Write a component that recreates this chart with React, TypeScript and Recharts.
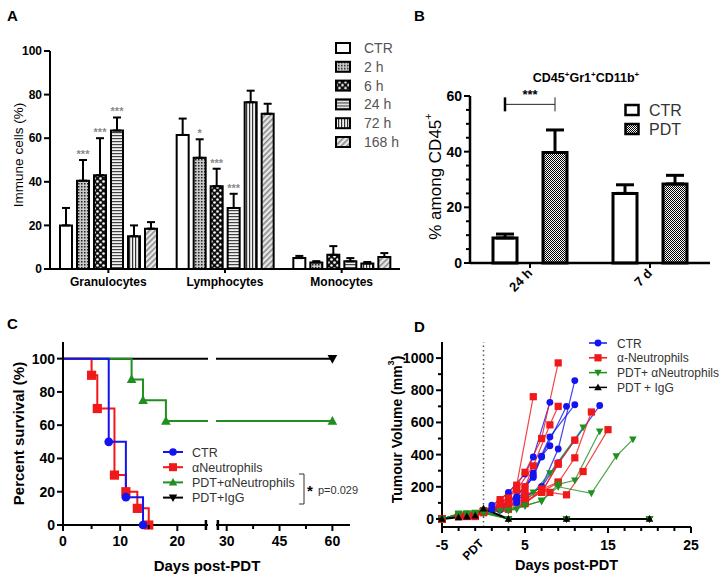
import React from "react";
import {
  Bar,
  BarChart,
  ErrorBar,
  Label,
  LabelList,
  Legend,
  Line,
  LineChart,
  ReferenceLine,
  XAxis,
  YAxis,
} from "recharts";

const FONT = '"Liberation Sans", Arial, Helvetica, sans-serif';
const AXIS = { stroke: "#000", strokeWidth: 2 };

// ---------- panel A: immune cells over time
const A_GROUPS = ["Granulocytes", "Lymphocytes", "Monocytes"];
const A_TIMES = ["CTR", "2 h", "6 h", "24 h", "72 h", "168 h"];
const A_CTR = [20, 61.5, 5];
const A_CTR_SD = [8, 7.5, 1];
const A_2H = [40.5, 51, 3];
const A_2H_SD = [9.5, 8.5, 0.6];
const A_6H = [43, 38, 6.5];
const A_6H_SD = [17, 8, 4];
const A_24H = [63.5, 28, 3.5];
const A_24H_SD = [6, 6.5, 1.5];
const A_72H = [15, 76.5, 2.5];
const A_72H_SD = [5, 5.3, 0.7];
const A_168H = [18.5, 71.2, 5.5];
const A_168H_SD = [3, 4.6, 1.8];
const A_STARS_2H = ["***", "*", ""];
const A_STARS_6H = ["***", "***", ""];
const A_STARS_24H = ["***", "***", ""];

// ---------- panel B: CD45+Gr1+CD11b+
const B_TIMES = ["24 h", "7 d"];
const B_CTR = [9, 25];
const B_CTR_SD = [1.4, 3.1];
const B_PDT = [39.7, 28.4];
const B_PDT_SD = [8.1, 3.1];
const B_SIG = ["***", ""];
const B_SIG_LEVEL = 57;

// ---------- panel C: survival
const C_CTR_DAYS = [0, 8, 11, 14];
const C_CTR_SURV = [100, 50, 16.7, 0];
const C_NEU_DAYS = [0, 5, 6, 9, 11, 13, 15];
const C_NEU_SURV = [100, 90, 70, 30, 20, 10, 0];
const C_PDTNEU_DAYS = [0, 12, 14, 18, 60];
const C_PDTNEU_SURV = [100, 87.5, 75, 62.5, 62.5];
const C_IGG_DAYS = [0, 60];
const C_IGG_SURV = [100, 100];

// ---------- panel D: tumour volume per mouse
const D_CTR_DAYS = [
  [-5, -3, -2, -1, 0, 1, 2, 3, 5, 6, 8],
  [-5, -3, -2, -1, 0, 1, 3, 5, 6, 8, 11],
  [-5, -3, -2, -1, 0, 2, 4, 6, 7, 8],
  [-5, -3, -2, -1, 0, 2, 4, 5, 7, 9, 11],
  [-5, -3, -2, -1, 0, 2, 4, 6, 7, 10],
  [-5, -3, -2, -1, 0, 2, 4, 5, 7, 9, 11, 14],
];
const D_CTR_VOL = [
  [0, 20, 20, 15, 45, 85, 120, 165, 280, 385, 725],
  [0, 25, 30, 20, 50, 60, 100, 200, 285, 510, 710],
  [0, 15, 20, 15, 40, 80, 140, 258, 390, 455],
  [0, 20, 25, 30, 55, 70, 130, 138, 200, 435, 860],
  [0, 20, 20, 25, 50, 65, 110, 270, 385, 700],
  [0, 20, 25, 20, 45, 55, 100, 135, 200, 350, 490, 705],
];
const D_NEU_DAYS = [
  [-5, -3, -2, -1, 0, 2, 4, 6],
  [-5, -3, -2, -1, 0, 2, 4, 6],
  [-5, -3, -2, -1, 0, 3, 5, 7, 9],
  [-5, -3, -2, -1, 0, 3, 5, 8, 9],
  [-5, -3, -2, -1, 0, 3, 5, 7, 9],
  [-5, -3, -2, -1, 0, 3, 5, 7, 9],
  [-5, -3, -2, -1, 0, 2, 5],
  [-5, -3, -2, -1, 0, 3, 5, 7, 9, 11],
  [-5, -3, -2, -1, 0, 3, 5, 7, 9, 11, 13],
  [-5, -3, -2, -1, 0, 3, 5, 7, 8, 10, 12, 15],
];
const D_NEU_VOL = [
  [0, 15, 15, 20, 45, 120, 210, 760],
  [0, 20, 20, 15, 50, 90, 180, 330],
  [0, 20, 25, 20, 50, 130, 290, 500, 970],
  [0, 15, 20, 25, 45, 110, 200, 585, 700],
  [0, 20, 25, 20, 40, 100, 160, 165, 345],
  [0, 25, 20, 25, 45, 90, 120, 185, 230],
  [0, 20, 25, 20, 50, 70, 140],
  [0, 15, 20, 20, 40, 80, 110, 165, 340, 490],
  [0, 20, 20, 25, 45, 75, 100, 170, 225, 380, 665],
  [0, 20, 25, 20, 40, 60, 95, 185, 165, 150, 295, 555],
];
const D_PDTNEU_DAYS = [
  [-5, -3, -2, -1, 0, 3, 10, 20],
  [-5, -3, -2, -1, 0, 3, 10, 20],
  [-5, -3, -2, -1, 0, 3, 10, 20],
  [-5, -3, -2, -1, 0, 3, 10, 20],
  [-5, -3, -2, -1, 0, 3, 10, 20],
  [-5, -3, -2, -1, 0, 2, 4, 6, 8, 12],
  [-5, -3, -2, -1, 0, 3, 5, 7, 9, 11, 14],
  [-5, -3, -2, -1, 0, 3, 5, 7, 9, 13, 16, 18],
];
const D_PDTNEU_VOL = [
  [0, 30, 30, 35, 40, 0, 0, 0],
  [0, 25, 35, 30, 45, 0, 0, 0],
  [0, 30, 30, 40, 35, 0, 0, 0],
  [0, 35, 30, 35, 50, 0, 0, 0],
  [0, 30, 25, 35, 40, 0, 0, 0],
  [0, 30, 30, 35, 45, 50, 60, 165, 285, 570],
  [0, 30, 35, 35, 40, 55, 85, 110, 215, 240, 545],
  [0, 25, 30, 35, 45, 50, 80, 115, 200, 160, 390, 495],
];
const D_IGG_DAYS = [[-5, -3, -2, -1, 0, 3, 10, 20]];
const D_IGG_VOL = [[0, 10, 15, 20, 65, 0, 0, 0]];

// ---------- styles
const A_FILLS = ["#fff", "url(#pDots)", "url(#pChecker)", "url(#pHStripe)", "url(#pVStripe)", "url(#pDiag)"];
const A_MEANS = [A_CTR, A_2H, A_6H, A_24H, A_72H, A_168H];
const A_SDS = [A_CTR_SD, A_2H_SD, A_6H_SD, A_24H_SD, A_72H_SD, A_168H_SD];
const A_STARS = [null, A_STARS_2H, A_STARS_6H, A_STARS_24H, null, null];
const B_BAR = 24;
const B_GAP = 26;
const BLUE = "#1414f0";
const RED = "#f01818";
const GREEN = "#1f8f1f";

const aData = A_GROUPS.map((g, gi) => {
  const row: any = { group: g };
  A_TIMES.forEach((_, ti) => {
    row[`m${ti}`] = A_MEANS[ti][gi];
    row[`e${ti}`] = [0, A_SDS[ti][gi]];
  });
  return row;
});

const bData = B_TIMES.map((t, i) => ({
  time: t,
  ctr: B_CTR[i],
  ctrErr: [0, B_CTR_SD[i]],
  pdt: B_PDT[i],
  pdtErr: [0, B_PDT_SD[i]],
}));

const toSurv = (days: number[], surv: number[]) => days.map((d, i) => ({ day: d, surv: surv[i] }));
const toVol = (days: number[], vol: number[]) => days.map((d, i) => ({ day: d, vol: vol[i] }));

// draw order: black under green under red under blue
const C_LINES = [
  { name: "PDT+IgG", data: toSurv(C_IGG_DAYS, C_IGG_SURV), color: "#000", shape: "triDown" },
  { name: "PDT+αNeutrophils", data: toSurv(C_PDTNEU_DAYS, C_PDTNEU_SURV), color: GREEN, shape: "triUp" },
  { name: "αNeutrophils", data: toSurv(C_NEU_DAYS, C_NEU_SURV), color: RED, shape: "square" },
  { name: "CTR", data: toSurv(C_CTR_DAYS, C_CTR_SURV), color: BLUE, shape: "circle" },
];
const C_LEGEND = [C_LINES[3], C_LINES[2], C_LINES[1], C_LINES[0]];

const D_GROUPS = [
  { name: "CTR", days: D_CTR_DAYS, vols: D_CTR_VOL, color: BLUE, shape: "circle" },
  { name: "α-Neutrophils", days: D_NEU_DAYS, vols: D_NEU_VOL, color: RED, shape: "square" },
  { name: "PDT+ αNeutrophils", days: D_PDTNEU_DAYS, vols: D_PDTNEU_VOL, color: GREEN, shape: "triDown" },
  { name: "PDT + IgG", days: D_IGG_DAYS, vols: D_IGG_VOL, color: "#000", shape: "triUp" },
];
const D_MICE = D_GROUPS.flatMap((g) =>
  g.days.map((d, i) => ({ data: toVol(d, g.vols[i]), color: g.color, shape: g.shape }))
);

function marker(shape: string, cx: number, cy: number, s: number, color: string, key?: any) {
  if (shape === "circle") return <circle key={key} cx={cx} cy={cy} r={s * 0.95} fill={color} />;
  if (shape === "square") return <rect key={key} x={cx - s} y={cy - s} width={2 * s} height={2 * s} fill={color} />;
  if (shape === "triUp")
    return <path key={key} d={`M${cx},${cy - s * 1.1}L${cx + s * 1.05},${cy + s * 0.8}L${cx - s * 1.05},${cy + s * 0.8}Z`} fill={color} />;
  return <path key={key} d={`M${cx},${cy + s * 1.1}L${cx + s * 1.05},${cy - s * 0.8}L${cx - s * 1.05},${cy - s * 0.8}Z`} fill={color} />;
}

function Patterns() {
  return (
    <svg width={0} height={0} style={{ position: "absolute" }}>
      <defs>
        <pattern id="pDots" width={3} height={3} patternUnits="userSpaceOnUse">
          <rect width={3} height={3} fill="#c8c8c8" />
          <rect width={1.5} height={1.5} fill="#222" />
        </pattern>
        <pattern id="pChecker" width={6} height={6} patternUnits="userSpaceOnUse">
          <rect width={6} height={6} fill="#111" />
          <circle cx={1.5} cy={1.5} r={1.3} fill="#fff" />
          <circle cx={4.5} cy={4.5} r={1.3} fill="#fff" />
        </pattern>
        <pattern id="pHStripe" width={4} height={3} patternUnits="userSpaceOnUse">
          <rect width={4} height={3} fill="#f2f2f2" />
          <rect width={4} height={1.2} fill="#444" />
        </pattern>
        <pattern id="pVStripe" width={3} height={4} patternUnits="userSpaceOnUse">
          <rect width={3} height={4} fill="#f2f2f2" />
          <rect width={1.2} height={4} fill="#333" />
        </pattern>
        <pattern id="pDiag" width={4} height={4} patternUnits="userSpaceOnUse" patternTransform="rotate(45)">
          <rect width={4} height={4} fill="#e8e8e8" />
          <rect width={1.6} height={4} fill="#8a8a8a" />
        </pattern>
        <pattern id="pPdt" width={2} height={2} patternUnits="userSpaceOnUse">
          <rect width={2} height={2} fill="#fff" />
          <rect width={1} height={1} fill="#000" />
          <rect x={1} y={1} width={1} height={1} fill="#000" />
        </pattern>
      </defs>
    </svg>
  );
}

const yTitle = (text: React.ReactNode, dx: number, dy: number, size: number, bold: boolean) => (props: any) => {
  const vb = props.viewBox;
  const cx = vb.x + dx;
  const cy = vb.y + vb.height / 2 + dy;
  return (
    <text
      x={cx}
      y={cy}
      transform={`rotate(-90 ${cx} ${cy})`}
      textAnchor="middle"
      dominantBaseline="central"
      fontSize={size}
      fontWeight={bold ? "bold" : "normal"}
      fontFamily={FONT}
      fill="#000"
    >
      {text}
    </text>
  );
};

// left axis tick with major/minor marks (tickSize/tickMargin are 0 so x is the axis line)
const leftTick = (isMajor: (v: number) => boolean, size: number, majorLen: number, minorLen: number) => (p: any) => {
  const v = p.payload.value;
  const maj = isMajor(v);
  const len = maj ? majorLen : minorLen;
  return (
    <g>
      <line x1={p.x - len} x2={p.x} y1={p.y} y2={p.y} stroke="#000" strokeWidth={2} />
      {maj && (
        <text x={p.x - len - 2} y={p.y} dy="0.36em" textAnchor="end" fontSize={size} fontWeight="bold" fontFamily={FONT} fill="#000">
          {v}
        </text>
      )}
    </g>
  );
};

const starLabel = (stars: string[], sds: number[]) => (props: any) => {
  const vb = props.viewBox ?? props;
  const i = props.index;
  const s = stars[i];
  if (!s) return null;
  const perUnit = vb.height / props.value;
  const top = vb.y - sds[i] * perUnit;
  return (
    <text x={vb.x + vb.width / 2} y={top - 2} textAnchor="middle" fontSize={11} fontWeight="bold" fill="#8a8a8a" fontFamily={FONT}>
      {s}
    </text>
  );
};

function ALegend() {
  return (
    <svg width={85} height={116}>
      {A_TIMES.map((t, i) => (
        <g key={t} transform={`translate(0, ${i * 18.8})`}>
          <rect x={1} y={3} width={14} height={10} fill={A_FILLS[i]} stroke="#000" strokeWidth={2} />
          <text x={29} y={13} fontSize={14} fill="#555" fontFamily={FONT}>
            {t}
          </text>
        </g>
      ))}
    </svg>
  );
}

function PanelA() {
  return (
    <div style={{ position: "absolute", left: 0, top: 0 }}>
      <BarChart width={420} height={300} data={aData} margin={{ top: 51, right: 20, left: 0, bottom: 0 }} barGap={5}>
        <XAxis
          dataKey="group"
          height={31}
          interval={0}
          axisLine={AXIS}
          tickLine={AXIS}
          tickSize={4}
          tickMargin={4}
          tick={{ fontSize: 12, fontWeight: "bold", fill: "#000", fontFamily: FONT }}
        />
        <YAxis
          width={50}
          domain={[0, 100]}
          ticks={[0, 20, 40, 60, 80, 100]}
          interval={0}
          axisLine={AXIS}
          tickLine={AXIS}
          tickSize={6}
          tick={{ fontSize: 12, fontWeight: "bold", fill: "#000", fontFamily: FONT }}
        >
          <Label content={yTitle("Immune cells (%)", 18, -5, 13.5, false)} />
        </YAxis>
        {A_TIMES.map((t, ti) => (
          <Bar
            key={t}
            dataKey={`m${ti}`}
            name={t}
            fill={A_FILLS[ti]}
            stroke="#000"
            strokeWidth={2}
            barSize={12}
            isAnimationActive={false}
          >
            <ErrorBar dataKey={`e${ti}`} direction="y" width={4} stroke="#000" strokeWidth={2} />
            {A_STARS[ti] && <LabelList dataKey={`m${ti}`} content={starLabel(A_STARS[ti] as string[], A_SDS[ti])} />}
          </Bar>
        ))}
        <Legend
          layout="vertical"
          align="center"
          verticalAlign="middle"
          wrapperStyle={{ left: 335, top: 40, width: 85 }}
          content={() => <ALegend />}
        />
      </BarChart>
    </div>
  );
}

const bracketLabel = (props: any) => {
  const vb = props.viewBox ?? props;
  const i = props.index;
  if (!B_SIG[i]) return null;
  const perUnit = vb.height / props.value;
  const zeroY = vb.y + vb.height;
  const yb = zeroY - B_SIG_LEVEL * perUnit;
  const x2 = vb.x + vb.width / 2;
  const x1 = x2 - (B_BAR + B_GAP);
  return (
    <g>
      <line x1={x1} x2={x2} y1={yb} y2={yb} stroke="#222" strokeWidth={1} />
      <line x1={x1} x2={x1} y1={yb - 7} y2={yb + 7} stroke="#000" strokeWidth={2.5} />
      <line x1={x2} x2={x2} y1={yb - 7} y2={yb + 7} stroke="#222" strokeWidth={1} />
      <text x={(x1 + x2) / 2} y={yb - 5} textAnchor="middle" fontSize={13} fontWeight="bold" fontFamily={FONT} fill="#000">
        {B_SIG[i]}
      </text>
    </g>
  );
};

function BLegend() {
  const items = [
    { name: "CTR", fill: "#fff" },
    { name: "PDT", fill: "url(#pPdt)" },
  ];
  return (
    <svg width={90} height={40}>
      {items.map((it, i) => (
        <g key={it.name} transform={`translate(0, ${i * 19})`}>
          <rect x={1.5} y={4} width={13} height={10} fill={it.fill} stroke="#000" strokeWidth={2.5} />
          <text x={25} y={15} fontSize={16} fill="#333" fontFamily={FONT}>
            {it.name}
          </text>
        </g>
      ))}
    </svg>
  );
}

function PanelB() {
  return (
    <div style={{ position: "absolute", left: 380, top: 0 }}>
      <BarChart
        width={340}
        height={310}
        data={bData}
        margin={{ top: 96, right: 10, left: 0, bottom: 0 }}
        barGap={B_GAP}
      >
        <XAxis
          dataKey="time"
          height={47}
          interval={0}
          axisLine={{ stroke: "#000", strokeWidth: 2.5 }}
          tickLine={false}
          tickSize={0}
          tickMargin={0}
          tick={(p: any) => (
            <g>
              <line x1={p.x} x2={p.x} y1={p.y} y2={p.y + 5} stroke="#000" strokeWidth={2} />
              <text
                x={p.x + 3}
                y={p.y + 11}
                transform={`rotate(-45 ${p.x + 3} ${p.y + 11})`}
                textAnchor="end"
                fontSize={13}
                fontWeight="bold"
                fontFamily={FONT}
                fill="#000"
              >
                {p.payload.value}
              </text>
            </g>
          )}
        />
        <YAxis
          width={90}
          domain={[0, 60]}
          ticks={[0, 5, 10, 15, 20, 25, 30, 35, 40, 45, 50, 55, 60]}
          interval={0}
          axisLine={{ stroke: "#000", strokeWidth: 2.5 }}
          tickLine={false}
          tickSize={0}
          tickMargin={0}
          tick={leftTick((v) => v % 20 === 0, 14, 6, 4)}
        >
          <Label
            content={yTitle(
              <>
                % among CD45
                <tspan dy={-7} fontSize={11}>
                  +
                </tspan>
              </>,
              55,
              -3,
              17,
              false
            )}
          />
        </YAxis>
        <Bar dataKey="ctr" name="CTR" fill="#fff" stroke="#000" strokeWidth={3} barSize={B_BAR} isAnimationActive={false}>
          <ErrorBar dataKey="ctrErr" direction="y" width={9} stroke="#000" strokeWidth={3} />
        </Bar>
        <Bar dataKey="pdt" name="PDT" fill="url(#pPdt)" stroke="#000" strokeWidth={3} barSize={B_BAR} isAnimationActive={false}>
          <ErrorBar dataKey="pdtErr" direction="y" width={9} stroke="#000" strokeWidth={3} />
          <LabelList dataKey="pdt" content={bracketLabel} />
        </Bar>
        <Legend
          layout="vertical"
          align="center"
          verticalAlign="middle"
          wrapperStyle={{ left: 244, top: 101, width: 90 }}
          content={() => <BLegend />}
        />
      </BarChart>
    </div>
  );
}

const cDot = (shape: string, color: string) => (p: any) => {
  if (p.cx == null || p.payload?.day === 0) return <g key={p.index} />;
  return marker(shape, p.cx, p.cy, 4.6, color, p.index);
};

const cXTick = (majors: number[], breakAt: number) => (p: any) => {
  const v = p.payload.value;
  if (v === breakAt)
    return <line x1={p.x} x2={p.x} y1={p.y - 5} y2={p.y + 5} stroke="#000" strokeWidth={2.5} />;
  const maj = majors.includes(v);
  return (
    <g>
      <line x1={p.x} x2={p.x} y1={p.y} y2={p.y + (maj ? 6 : 4)} stroke="#000" strokeWidth={2} />
      {maj && (
        <text x={p.x} y={p.y + 21} textAnchor="middle" fontSize={14} fontWeight="bold" fontFamily={FONT} fill="#000">
          {v}
        </text>
      )}
    </g>
  );
};

function SurvivalLines() {
  return C_LINES.map((l) => (
    <Line
      key={l.name}
      data={l.data}
      dataKey="surv"
      name={l.name}
      type="stepAfter"
      stroke={l.color}
      strokeWidth={2}
      dot={cDot(l.shape, l.color)}
      isAnimationActive={false}
    />
  ));
}

function PanelC() {
  return (
    <>
      <div style={{ position: "absolute", left: 0, top: 300, width: 208, height: 282, overflow: "hidden" }}>
        <LineChart width={411} height={280} margin={{ top: 42, right: 5, left: 0, bottom: 0 }}>
          <XAxis
            type="number"
            dataKey="day"
            domain={[0, 60]}
            ticks={[0, 5, 10, 15, 20, 25]}
            interval={0}
            height={55}
            axisLine={AXIS}
            tickLine={false}
            tickSize={0}
            tickMargin={0}
            tick={cXTick([0, 10, 20], 25)}
          />
          <YAxis
            width={63}
            domain={[0, 110]}
            ticks={[0, 20, 40, 60, 80, 100]}
            interval={0}
            axisLine={AXIS}
            tickLine={AXIS}
            tickSize={6}
            tick={{ fontSize: 14, fontWeight: "bold", fill: "#000", fontFamily: FONT }}
          >
            <Label content={yTitle("Percent survival (%)", 18, 0, 15, true)} />
          </YAxis>
          {SurvivalLines()}
        </LineChart>
      </div>
      <div style={{ position: "absolute", left: 216, top: 300, width: 147, height: 282, overflow: "hidden" }}>
        <div style={{ position: "absolute", left: -95, top: 0 }}>
          <LineChart width={234} height={280} margin={{ top: 42, right: 5, left: 0, bottom: 0 }}>
            <XAxis
              type="number"
              dataKey="day"
              domain={[0, 65]}
              ticks={[27.5, 30, 37.5, 45, 52.5, 60]}
              interval={0}
              height={55}
              axisLine={AXIS}
              tickLine={false}
              tickSize={0}
              tickMargin={0}
              tick={cXTick([30, 45, 60], 27.5)}
            />
            <YAxis hide domain={[0, 110]} />
            {SurvivalLines()}
          </LineChart>
        </div>
      </div>
    </>
  );
}

const dDot = (shape: string, color: string) => (p: any) => {
  if (p.cx == null) return <g key={p.index} />;
  return marker(shape, p.cx, p.cy, 3.6, color, p.index);
};

function DLegend() {
  return (
    <svg width={142} height={62}>
      {D_GROUPS.map((g, i) => {
        const y = 8 + i * 14.8;
        return (
          <g key={g.name}>
            <line x1={4} x2={22} y1={y} y2={y} stroke={g.color} strokeWidth={1.5} />
            {marker(g.shape, 13, y, 3.6, g.color)}
            <text x={32} y={y + 4.5} fontSize={12} fill="#333" fontFamily={FONT}>
              {g.name}
            </text>
          </g>
        );
      })}
    </svg>
  );
}

function PanelD() {
  return (
    <div style={{ position: "absolute", left: 380, top: 300 }}>
      <LineChart width={345} height={280} margin={{ top: 42, right: 34, left: 0, bottom: 0 }}>
        <XAxis
          type="number"
          dataKey="day"
          domain={[-5, 25]}
          ticks={[-5, -3, -1, 0, 1, 3, 5, 7, 9, 11, 13, 15, 17, 19, 21, 23, 25]}
          interval={0}
          height={53}
          axisLine={AXIS}
          tickLine={false}
          tickSize={0}
          tickMargin={0}
          tick={(p: any) => {
            const v = p.payload.value;
            if (v === 0)
              return (
                <text
                  x={p.x + 1}
                  y={p.y + 17}
                  transform={`rotate(-45 ${p.x + 1} ${p.y + 17})`}
                  textAnchor="end"
                  fontSize={12}
                  fontWeight="bold"
                  fontFamily={FONT}
                  fill="#000"
                >
                  PDT
                </text>
              );
            const maj = (v + 5) % 10 === 0;
            return (
              <g>
                <line x1={p.x} x2={p.x} y1={p.y} y2={p.y + (maj ? 6 : 4)} stroke="#000" strokeWidth={2} />
                {maj && (
                  <text x={p.x} y={p.y + 23} textAnchor="middle" fontSize={14} fontWeight="bold" fontFamily={FONT} fill="#000">
                    {v}
                  </text>
                )}
              </g>
            );
          }}
        >
          <Label
            content={(props: any) => (
              <text
                x={props.viewBox.x + props.viewBox.width / 2}
                y={props.viewBox.y + 43}
                textAnchor="middle"
                fontSize={14.5}
                fontWeight="bold"
                fontFamily={FONT}
                fill="#000"
              >
                Days post-PDT
              </text>
            )}
          />
        </XAxis>
        <YAxis
          width={62}
          domain={[-50, 1100]}
          ticks={[0, 100, 200, 300, 400, 500, 600, 700, 800, 900, 1000]}
          interval={0}
          axisLine={AXIS}
          tickLine={false}
          tickSize={0}
          tickMargin={0}
          tick={leftTick((v) => v % 200 === 0, 14, 6, 4)}
        >
          <Label
            content={yTitle(
              <>
                Tumour Volume (mm
                <tspan dy={-6} fontSize={9}>
                  3
                </tspan>
                <tspan dy={6}>)</tspan>
              </>,
              17,
              -5,
              14,
              true
            )}
          />
        </YAxis>
        <ReferenceLine x={0} stroke="#555" strokeWidth={1.5} strokeDasharray="1.5 3" />
        {D_MICE.map((m, i) => (
          <Line
            key={i}
            data={m.data}
            dataKey="vol"
            type="linear"
            stroke={m.color}
            strokeOpacity={m.color === "#000" ? 1 : 0.8}
            strokeWidth={m.color === "#000" ? 2 : 1.2}
            dot={dDot(m.shape, m.color)}
            isAnimationActive={false}
          />
        ))}
        <Legend
          layout="vertical"
          align="center"
          verticalAlign="middle"
          wrapperStyle={{ left: 205, top: 35, width: 142 }}
          content={() => <DLegend />}
        />
      </LineChart>
    </div>
  );
}

function Overlay() {
  const lt = { fontFamily: FONT, fontWeight: "bold" as const, fontSize: 15, fill: "#000" };
  return (
    <svg width={727} height={582} style={{ position: "absolute", left: 0, top: 0, pointerEvents: "none" }}>
      <text x={7} y={21} {...lt}>A</text>
      <text x={414} y={21} {...lt}>B</text>
      <text x={7} y={329} {...lt}>C</text>
      <text x={414} y={332} {...lt}>D</text>
      <text x={586} y={82} textAnchor="middle" fontFamily={FONT} fontWeight="bold" fontSize={12.5} fill="#000">
        CD45<tspan dy={-5} fontSize={8}>+</tspan>
        <tspan dy={5}>Gr1</tspan>
        <tspan dy={-5} fontSize={8}>+</tspan>
        <tspan dy={5}>CD11b</tspan>
        <tspan dy={-5} fontSize={8}>+</tspan>
      </text>
      <text x={207} y={571} textAnchor="middle" fontFamily={FONT} fontWeight="bold" fontSize={15} fill="#000">
        Days post-PDT
      </text>
      {C_LEGEND.map((l, i) => {
        const y = 452 + i * 15.2;
        return (
          <g key={l.name}>
            <line x1={163} x2={183} y1={y} y2={y} stroke={l.color} strokeWidth={2} />
            {marker(l.shape, 173, y, 4, l.color)}
            <text x={192} y={y + 4.5} fontSize={12.5} fill="#333" fontFamily={FONT}>
              {l.name}
            </text>
          </g>
        );
      })}
      <path d="M299,474 L304,474 L304,504 L299,504" fill="none" stroke="#333" strokeWidth={1} />
      <text x={307} y={496} fontSize={15} fontWeight="bold" fontFamily={FONT} fill="#000">*</text>
      <text x={318} y={494} fontSize={11} fontFamily={FONT} fill="#333">p=0.029</text>
    </svg>
  );
}

export default function App() {
  return (
    <div
      style={{
        position: "absolute",
        left: 0,
        top: 0,
        width: 727,
        height: 582,
        background: "#fff",
        overflow: "hidden",
        fontFamily: FONT,
      }}
    >
      <Patterns />
      <PanelA />
      <PanelB />
      <PanelC />
      <PanelD />
      <Overlay />
    </div>
  );
}
